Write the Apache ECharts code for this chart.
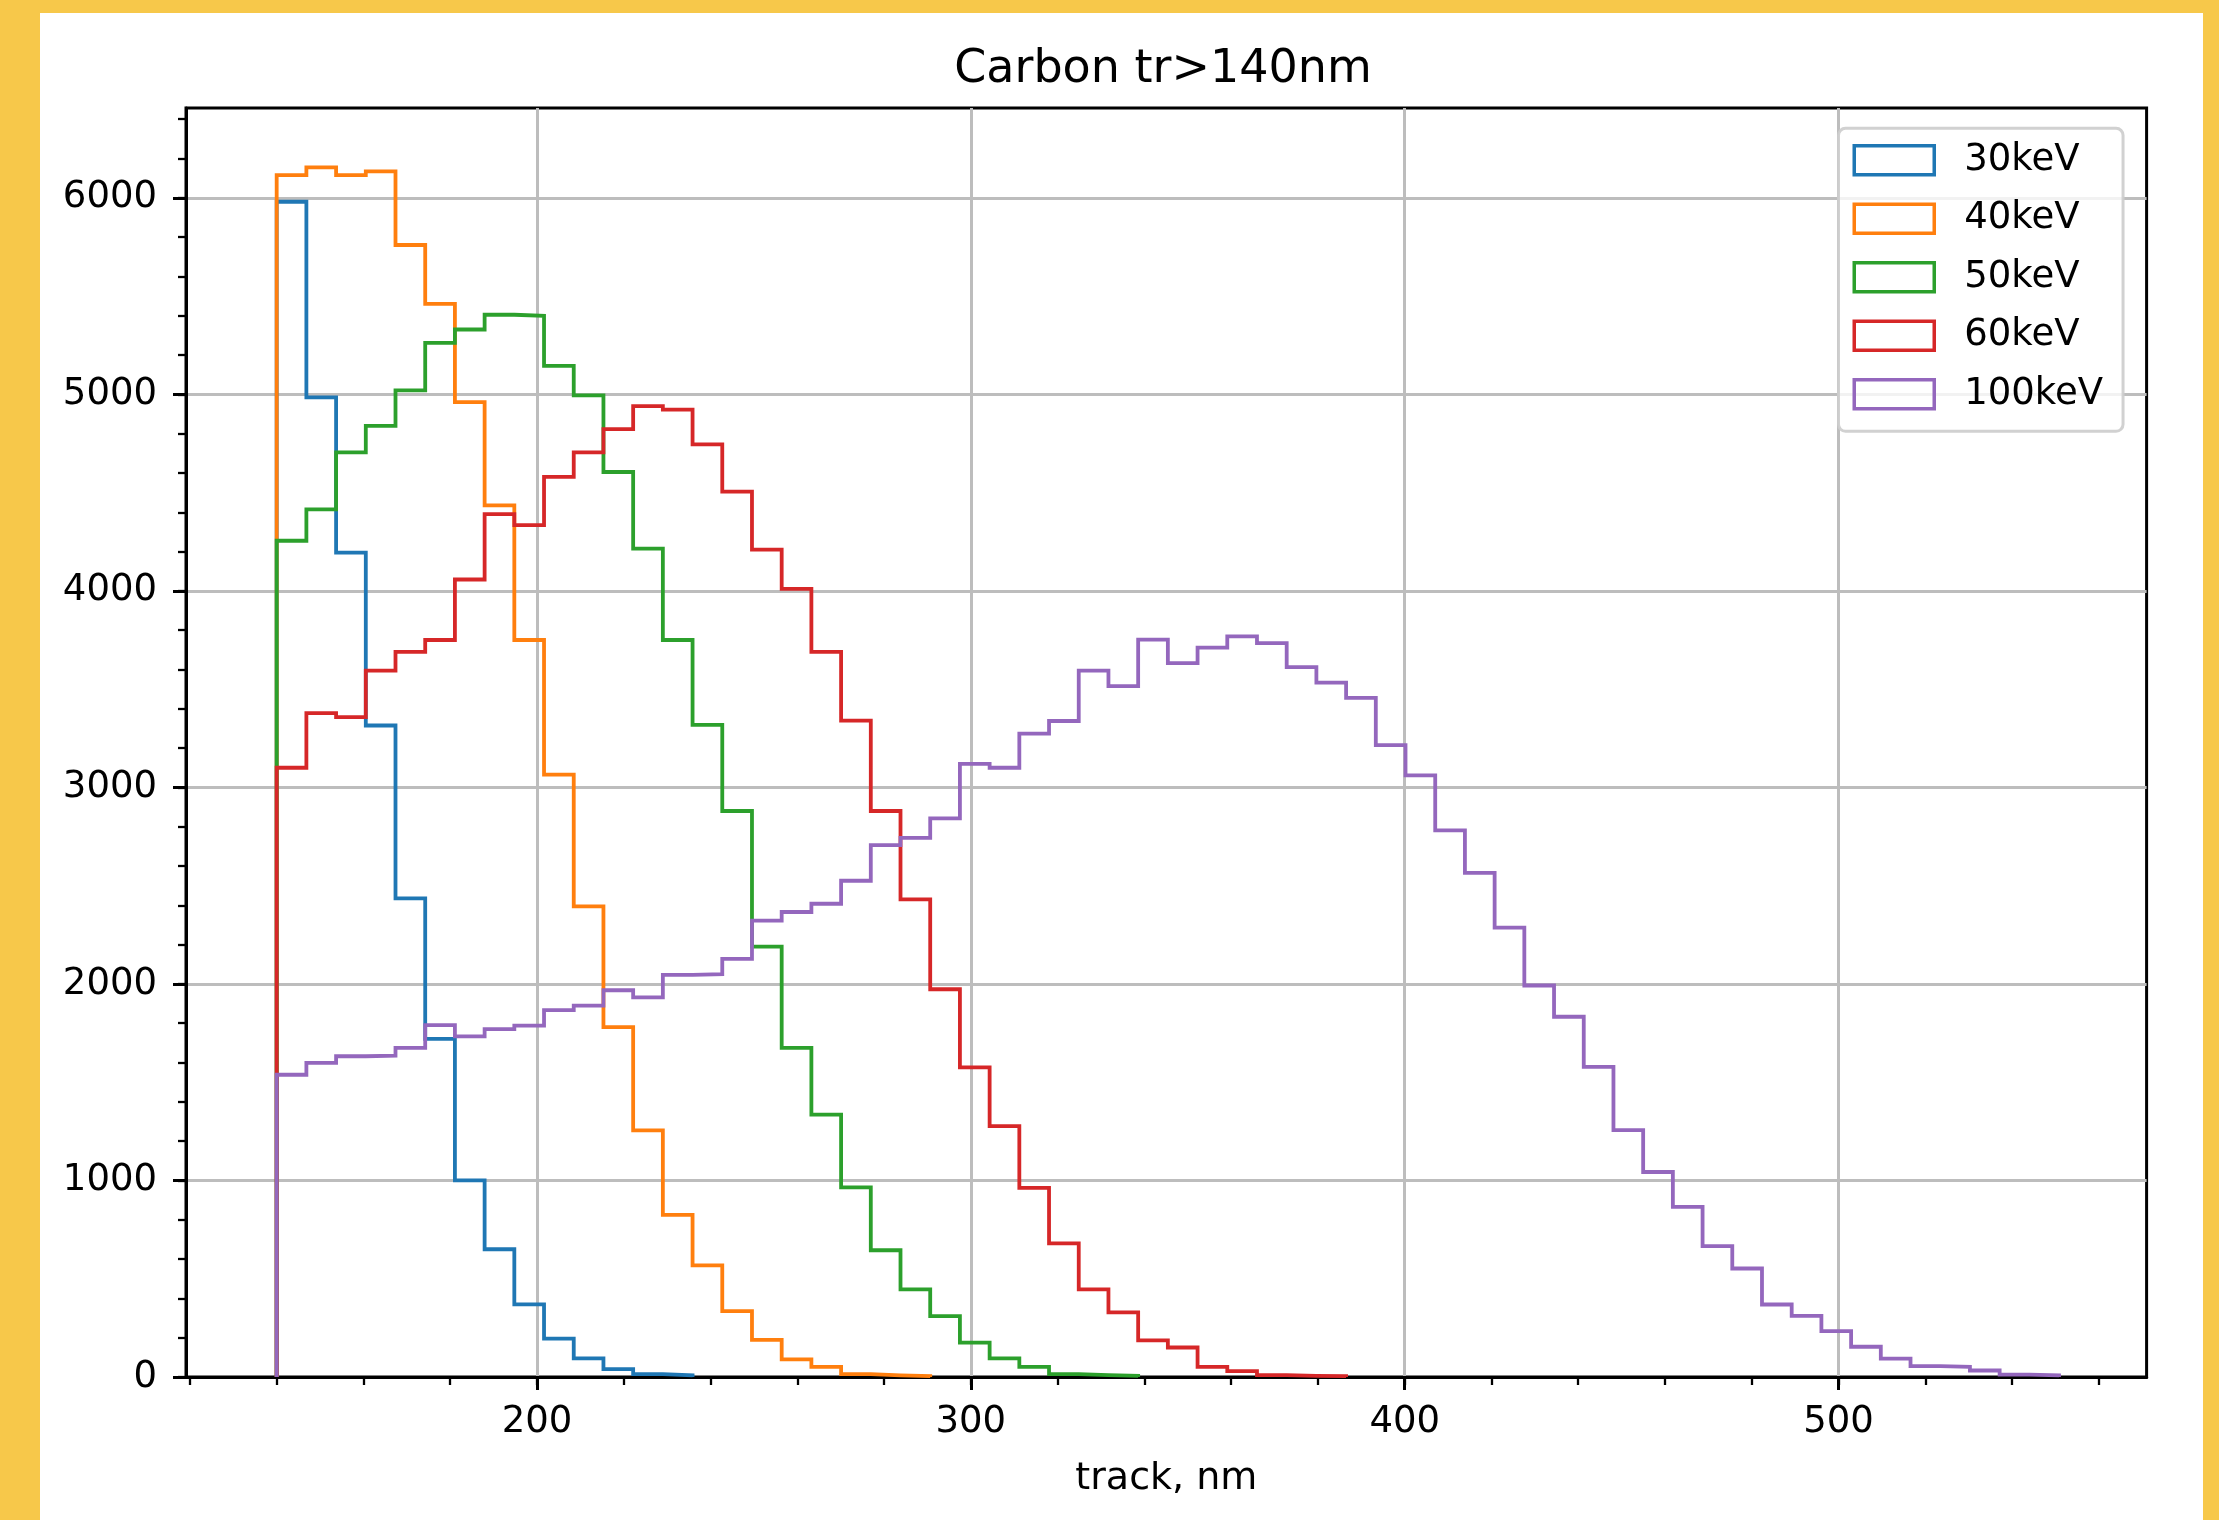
<!DOCTYPE html>
<html><head><meta charset="utf-8">
<script src="https://cdn.jsdelivr.net/npm/echarts@6/dist/echarts.min.js"></script>
<style>
html,body{margin:0;padding:0;background:#F7C84A;width:2219px;height:1520px;overflow:hidden}
#panel{position:absolute;left:40px;top:13px;width:2163px;height:1507px;background:#fff}
#chart{position:absolute;left:0;top:0;width:2219px;height:1520px}
</style></head><body>
<div id="panel"></div><div id="chart"></div>
<script>
// ---- data (histogram bin counts, common bins starting at 140 nm) ----
const binStart = 140;
const binWidth = 6.847;
const seriesNames = ['30keV', '40keV', '50keV', '60keV', '100keV'];
const counts30 = [5980, 4985, 4195, 3315, 2435, 1720, 1000, 650, 370, 195, 95, 40, 15, 8];
const counts40 = [6115, 6155, 6115, 6135, 5760, 5460, 4960, 4435, 3750, 3065, 2395, 1780, 1255, 825, 568, 335, 189, 90, 52, 15, 8, 4];
const counts50 = [4255, 4415, 4705, 4840, 5020, 5262, 5330, 5405, 5400, 5145, 4995, 4605, 4215, 3750, 3318, 2880, 2190, 1675, 1335, 965, 645, 446, 310, 175, 95, 52, 15, 10, 6];
const counts60 = [3100, 3378, 3358, 3594, 3690, 3750, 4058, 4391, 4335, 4580, 4705, 4823, 4940, 4922, 4745, 4505, 4210, 4010, 3690, 3340, 2880, 2430, 1973, 1575, 1277, 962, 680, 446, 329, 186, 150, 52, 30, 10, 6, 4];
const counts100 = [1538, 1598, 1632, 1635, 1675, 1790, 1733, 1770, 1788, 1867,
                   1890, 1968, 1932, 2046, 2050, 2128, 2322, 2366, 2408, 2525,
                   2706, 2743, 2842, 3120, 3100, 3274, 3338, 3594, 3515, 3752,
                   3632, 3711, 3769, 3734, 3612, 3533, 3456, 3215, 3061, 2781,
                   2565, 2287, 1992, 1833, 1578, 1256, 1043, 866, 666, 552,
                   369, 311, 233, 154, 93, 55, 52, 33, 12, 8];
const xMajorTicks = [200, 300, 400, 500];
const xMinorTicks = [120, 140, 160, 180, 200, 220, 240, 260, 280, 300, 320, 340, 360, 380, 400, 420, 440, 460, 480, 500, 520, 540, 560];
const yMajorTicks = [0, 1000, 2000, 3000, 4000, 5000, 6000];
const yMinorTicks = [0, 200, 400, 600, 800, 1000, 1200, 1400, 1600, 1800, 2000, 2200, 2400, 2600, 2800, 3000, 3200, 3400, 3600, 3800, 4000, 4200, 4400, 4600, 4800, 5000, 5200, 5400, 5600, 5800, 6000, 6200, 6400];
const titleText = 'Carbon tr>140nm';
const xName = 'track, nm';

// ---- styles ----
const colors = ['#1f77b4', '#ff7f0e', '#2ca02c', '#d62728', '#9467bd'];
const FONT = "'DejaVu Sans', 'Liberation Sans', sans-serif";
const allCounts = [counts30, counts40, counts50, counts60, counts100];

function stepOutline(counts) {
  const pts = [[binStart, 0]];
  counts.forEach(function (c, i) {
    const e0 = binStart + i * binWidth;
    const e1 = binStart + (i + 1) * binWidth;
    pts.push([e0, c], [e1, c]);
  });
  pts.push([binStart + counts.length * binWidth, 0]);
  return pts;
}

const X_MIN = 119.1, X_MAX = 571.0, Y_MIN = 0, Y_MAX = 6457;
const chart = echarts.init(document.getElementById('chart'), null, {renderer: 'canvas'});
const option = {
  animation: false,
  backgroundColor: 'transparent',
  title: {
    text: titleText, left: 1163, top: 47, textAlign: 'center', padding: 0,
    textStyle: {fontSize: 46, fontWeight: 'normal', color: '#000', fontFamily: FONT}
  },
  legend: {
    orient: 'vertical', left: 1838.5, top: 128.3,
    padding: [12, 20, 17, 14],
    itemWidth: 80, itemHeight: 29, itemGap: 18.5,
    backgroundColor: 'rgba(255,255,255,0.8)',
    borderColor: 'rgba(204,204,204,0.9)', borderWidth: 3, borderRadius: 7,
    textStyle: {fontSize: 37, lineHeight: 40, color: '#000', fontFamily: FONT, padding: [0, 0, 0, 25]},
    data: seriesNames.map(function (n, i) {
      return {name: n, icon: 'rect', itemStyle: {color: 'transparent', borderColor: colors[i], borderWidth: 3.5}};
    })
  },
  grid: {
    left: 186, top: 108, right: 72.4, bottom: 143,
    show: true, borderColor: '#000', borderWidth: 3, backgroundColor: '#fff'
  },
  xAxis: [{
    type: 'value', min: X_MIN, max: X_MAX, position: 'bottom',
    name: xName, nameLocation: 'middle', nameGap: 83,
    nameTextStyle: {fontSize: 38, color: '#000', fontFamily: FONT},
    axisLine: {show: true, onZero: false, lineStyle: {color: '#000', width: 3}},
    axisTick: {show: true, customValues: xMajorTicks, length: 13, lineStyle: {color: '#000', width: 3}},
    axisLabel: {show: true, customValues: xMajorTicks, margin: 27, fontSize: 37, color: '#000', fontFamily: FONT,
      formatter: function (v) { return String(v); }},
    splitLine: {show: true, lineStyle: {color: '#bdbdbd', width: 3}}
  }, {
    type: 'value', min: X_MIN, max: X_MAX, position: 'bottom', offset: 0,
    axisLine: {show: false, onZero: false},
    axisTick: {show: true, customValues: xMinorTicks, length: 8, lineStyle: {color: '#000', width: 2.3}},
    axisLabel: {show: false},
    splitLine: {show: false}
  }],
  yAxis: [{
    type: 'value', min: Y_MIN, max: Y_MAX, position: 'left',
    axisLine: {show: true, onZero: false, lineStyle: {color: '#000', width: 3}},
    axisTick: {show: true, customValues: yMajorTicks, length: 13, lineStyle: {color: '#000', width: 3}},
    axisLabel: {show: true, customValues: yMajorTicks, margin: 29, fontSize: 37, color: '#000', fontFamily: FONT,
      formatter: function (v) { return String(v); }},
    splitLine: {show: true, lineStyle: {color: '#bdbdbd', width: 3}}
  }, {
    type: 'value', min: Y_MIN, max: Y_MAX, position: 'left', offset: 0,
    axisLine: {show: false, onZero: false},
    axisTick: {show: true, customValues: yMinorTicks, length: 8, lineStyle: {color: '#000', width: 2.3}},
    axisLabel: {show: false},
    splitLine: {show: false}
  }],
  series: seriesNames.map(function (n, i) {
    return {
      name: n, type: 'line', xAxisIndex: 0, yAxisIndex: 0,
      data: stepOutline(allCounts[i]),
      showSymbol: false, symbol: 'none',
      lineStyle: {color: colors[i], width: 3.8, join: 'miter'},
      itemStyle: {color: colors[i]},
      emphasis: {disabled: true}
    };
  })
};
chart.setOption(option);
</script>
</body></html>
